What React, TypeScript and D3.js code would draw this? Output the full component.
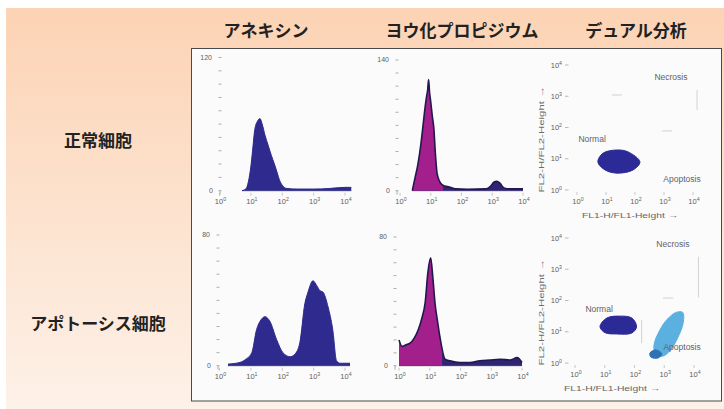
import React from "react";
import * as d3 from "d3";

const WIDTH = 724;
const HEIGHT = 409;

const columnTitles = ["アネキシン", "ヨウ化プロピジウム", "デュアル分析"];
const rowTitles = ["正常細胞", "アポトーシス細胞"];
const decades = [0, 1, 2, 3, 4];

type Pt = [number, number];

// histograms: [log10 fluorescence, event count]
const annexinNormal: Pt[] = [
  [0.72, 0], [0.85, 2], [0.92, 8], [1.0, 22], [1.05, 35], [1.13, 56], [1.22, 63],
  [1.29, 65], [1.36, 60], [1.45, 50], [1.55, 41], [1.65, 32], [1.75, 24], [1.83, 17],
  [1.92, 9], [2.0, 5], [2.15, 2], [2.5, 1.5], [3.0, 1.5], [3.5, 2], [4.0, 3], [4.2, 3],
];
const annexinApoptotic: Pt[] = [
  [0.27, 1], [0.65, 2], [0.84, 4], [1.03, 8], [1.18, 22], [1.32, 28], [1.45, 30],
  [1.61, 27], [1.82, 16], [2.02, 8], [2.25, 5.5], [2.4, 7], [2.56, 14], [2.72, 38],
  [2.82, 45], [2.98, 52], [3.1, 49], [3.2, 46], [3.3, 45], [3.46, 36], [3.61, 22],
  [3.73, 3], [3.84, 1.5], [4.16, 1.5],
];
const piNormal: Pt[] = [
  [0.4, 0], [0.49, 14], [0.58, 28], [0.68, 50], [0.74, 67], [0.8, 85], [0.86, 100],
  [0.9, 108], [0.93, 119], [0.96, 106], [1.0, 95], [1.05, 80], [1.1, 67], [1.15, 40],
  [1.2, 20], [1.24, 14], [1.32, 8], [1.45, 5], [1.6, 4], [1.8, 2], [2.2, 1.5],
  [2.8, 2], [2.95, 5], [3.05, 9], [3.15, 10], [3.25, 8], [3.38, 3], [3.6, 2], [4.0, 2],
];
const piApoptotic: Pt[] = [
  [0, 16], [0.1, 12], [0.23, 13], [0.36, 14], [0.49, 17], [0.62, 22], [0.75, 30],
  [0.85, 39], [0.94, 58], [1.03, 67], [1.1, 55], [1.17, 39], [1.25, 28], [1.33, 18],
  [1.5, 4], [1.66, 3], [1.98, 2], [2.3, 2], [2.63, 3], [2.96, 3.5], [3.28, 4],
  [3.61, 3.5], [3.84, 5], [4.0, 2],
];
const histogramMax = [120, 140, 80, 80];
const piGate: Pt = [0, 1.4];

// dual plot population contours: [log10 FL1, log10 FL2]
const normalPopTop: Pt[] = [
  [0.72, 0.9], [0.9, 1.18], [1.38, 1.28], [1.76, 1.22], [2.17, 0.9], [1.93, 0.64],
  [1.38, 0.54], [0.97, 0.64],
];
const normalPopBottom: Pt[] = [
  [0.84, 1.16], [1.07, 1.44], [1.51, 1.5], [1.91, 1.44], [2.07, 1.16], [1.91, 0.96],
  [1.4, 0.93], [1.01, 0.97],
];
const apoptoticPop: Pt[] = [
  [2.66, 0.6], [2.85, 1.05], [3.1, 1.4], [3.4, 1.62], [3.62, 1.62], [3.64, 1.3],
  [3.45, 0.8], [3.2, 0.4], [2.95, 0.22], [2.7, 0.28],
];
const lateApoptoticPop: Pt[] = [
  [2.52, 0.32], [2.72, 0.42], [2.92, 0.29], [2.79, 0.16], [2.55, 0.19],
];
const quadrantNames = ["Necrosis", "Normal", "Apoptosis"];
const quadrantSpotsTop: Pt[] = [[3.24, 3.62], [0.52, 1.63], [3.62, 0.35]];
const quadrantSpotsBottom: Pt[] = [[3.29, 3.81], [0.81, 1.73], [3.6, 0.51]];
// faint gate segments [[x1,y1],[x2,y2]]
const gatesTop: [Pt, Pt][] = [
  [[1.2, 3.04], [1.55, 3.04]], [[2.93, 1.89], [3.28, 1.89]], [[4.14, 2.56], [4.14, 3.2]],
];
const gatesBottom: [Pt, Pt][] = [
  [[2.24, 0.64], [2.24, 1.38]], [[2.96, 2.08], [3.3, 2.08]], [[4.15, 2.1], [4.15, 3.4]],
];

const tickFont = "Liberation Sans, Arial, sans-serif";
const cjkFont = "Noto Sans CJK JP, sans-serif";
const tickInk = "#5e5e5e";

function Decade({ x, y, d, size = 7.5 }: { x: number; y: number; d: number; size?: number }) {
  return (
    <text x={x} y={y} textAnchor="middle" fontSize={size} fill={tickInk} fontFamily={tickFont}>
      10
      <tspan dy={-3} fontSize={size * 0.7}>{d}</tspan>
    </text>
  );
}

function Histogram(props: {
  data: Pt[]; x0: number; x1: number; yBase: number; yTop: number; max: number;
  axisX: number; fill: string; gateFill?: string;
}) {
  const { data, x0, x1, yBase, yTop, max, axisX, fill, gateFill } = props;
  const x = d3.scaleLinear().domain([0, 4]).range([x0, x1]);
  const y = d3.scaleLinear().domain([0, max]).range([yBase, yTop]);
  const area = d3.area<Pt>().x((d) => x(d[0])).y0(yBase).y1((d) => y(d[1])).curve(d3.curveMonotoneX);
  const line = d3.line<Pt>().x((d) => x(d[0])).y((d) => y(d[1])).curve(d3.curveMonotoneX);
  const ticks = d3.range(0, max + 0.001, max / 10);
  const clipId = "gate" + Math.round(x0) + Math.round(yBase);
  return (
    <g>
      {ticks.map((t) => (
        <line key={t} x1={axisX - 1.5} x2={axisX + 1.5} y1={y(t)} y2={y(t)} stroke="#9a9a9a" strokeWidth={0.8} />
      ))}
      <line x1={axisX} x2={axisX} y1={yBase} y2={yBase + 4} stroke="#9a9a9a" strokeWidth={0.8} />
      <text x={axisX - 8} y={y(max) + 2} textAnchor="end" fontSize={7} fill={tickInk} fontFamily={tickFont}>{max}</text>
      <text x={axisX - 7} y={yBase + 2.5} textAnchor="end" fontSize={7} fill={tickInk} fontFamily={tickFont}>0</text>
      <line x1={x(d3.min(data, (d) => d[0]) as number)} x2={x(d3.max(data, (d) => d[0]) as number)} y1={yBase} y2={yBase} stroke="#8a8a9a" strokeWidth={1.2} />
      <path d={area(data) || ""} fill={fill} />
      {gateFill && (
        <>
          <clipPath id={clipId}>
            <rect x={x(piGate[0]) - 3} y={yTop - 10} width={x(piGate[1]) - x(piGate[0]) + 3} height={yBase - yTop + 10} />
          </clipPath>
          <path d={area(data) || ""} fill={gateFill} clipPath={`url(#${clipId})`} />
        </>
      )}
      <path d={line(data) || ""} fill="none" stroke={gateFill ? "#22184f" : fill} strokeWidth={gateFill ? 1.6 : 1} />
      {decades.map((d) => (
        <g key={d}>
          <line x1={x(d)} x2={x(d)} y1={yBase + 2} y2={yBase + 5} stroke="#b0b0b0" strokeWidth={0.7} />
          <Decade x={x(d) + 1} y={yBase + 13} d={d} />
        </g>
      ))}
    </g>
  );
}

function DotPlot(props: {
  x0: number; x1: number; yBase: number; yTop: number; axisX: number;
  pops: { pts: Pt[]; fill: string }[]; spots: Pt[]; gates: [Pt, Pt][];
  xLabelX: number; xLabelY: number;
}) {
  const { x0, x1, yBase, yTop, axisX, pops, spots, gates, xLabelX, xLabelY } = props;
  const x = d3.scaleLinear().domain([0, 4]).range([x0, x1]);
  const y = d3.scaleLinear().domain([0, 4]).range([yBase, yTop]);
  const blob = d3.line<Pt>().x((d) => x(d[0])).y((d) => y(d[1])).curve(d3.curveCatmullRomClosed.alpha(0.5));
  const yMid = (yBase + yTop) / 2 + 12;
  return (
    <g>
      <text
        transform={`translate(544,${yMid}) rotate(-90)`}
        textAnchor="middle" fontSize={8} fill="#6a6a6a" fontFamily={tickFont}
        textLength={106} lengthAdjust="spacingAndGlyphs"
      >
        FL2-H/FL2-Height →
      </text>
      {gates.map((g, i) => (
        <line key={i} x1={x(g[0][0])} y1={y(g[0][1])} x2={x(g[1][0])} y2={y(g[1][1])} stroke="#c8c8c8" strokeWidth={0.8} />
      ))}
      {decades.map((d) => (
        <g key={d}>
          <line x1={axisX - 2} x2={axisX + 1.5} y1={y(d)} y2={y(d)} stroke="#a8a8a8" strokeWidth={0.8} />
          <text x={axisX - 5} y={y(d) + 2.5} textAnchor="end" fontSize={7.5} fill={tickInk} fontFamily={tickFont}>
            10<tspan dy={-3} fontSize={5.2}>{d}</tspan>
          </text>
          <line x1={x(d)} x2={x(d)} y1={yBase + 2} y2={yBase + 5} stroke="#b4b4b4" strokeWidth={0.7} />
          <Decade x={x(d) + 1} y={yBase + 14} d={d} />
        </g>
      ))}
      {pops.map((p, i) => (
        <path key={i} d={blob(p.pts) || ""} fill={p.fill} stroke={p.fill} strokeWidth={1} strokeLinejoin="round" />
      ))}
      {quadrantNames.map((n, i) => (
        <text key={n} x={x(spots[i][0])} y={y(spots[i][1]) + 3} textAnchor="middle" fontSize={8.5} fill="#626262" fontFamily={tickFont}>
          {n}
        </text>
      ))}
      <text x={xLabelX} y={xLabelY} textAnchor="middle" fontSize={8} fill="#666" fontFamily={tickFont}
        textLength={96} lengthAdjust="spacingAndGlyphs">
        FL1-H/FL1-Height →
      </text>
    </g>
  );
}

export default function App() {
  const titleX = [266, 462, 636];
  const rowY = [139, 322];
  return (
    <svg width={WIDTH} height={HEIGHT} style={{ position: "absolute", left: 0, top: 0 }}>
      <defs>
        <linearGradient id="peach" x1="0" y1="0" x2="0" y2="1">
          <stop offset="0" stopColor="#fcd3b4" />
          <stop offset="1" stopColor="#fdf1e8" />
        </linearGradient>
      </defs>
      <rect width={WIDTH} height={HEIGHT} fill="#ffffff" />
      <rect x={6} y={8} width={WIDTH - 6} height={HEIGHT - 8} fill="url(#peach)" />
      {columnTitles.map((t, i) => (
        <text key={t} x={titleX[i]} y={29} textAnchor="middle" dominantBaseline="central"
          fontSize={17} fontWeight={700} fill="#222" fontFamily={cjkFont}>{t}</text>
      ))}
      {rowTitles.map((t, i) => (
        <text key={t} x={98} y={rowY[i]} textAnchor="middle" dominantBaseline="central"
          fontSize={17} fontWeight={700} fill="#222" fontFamily={cjkFont}>{t}</text>
      ))}
      <rect x={191.5} y={48.5} width={530} height={352.5} fill="#fbfbfb" stroke="#4a4a4a" strokeWidth={1} />

      <Histogram data={annexinNormal} x0={219.5} x1={345} yBase={190.7} yTop={57.5} max={histogramMax[0]} axisX={220} fill="#2e2a8e" />
      <Histogram data={piNormal} x0={400} x1={523} yBase={190.7} yTop={60} max={histogramMax[1]} axisX={397} fill="#2f2577" gateFill="#a3208c" />
      <Histogram data={annexinApoptotic} x0={219.5} x1={345} yBase={365.7} yTop={235} max={histogramMax[2]} axisX={218} fill="#2e2a8e" />
      <Histogram data={piApoptotic} x0={399} x1={522} yBase={365.7} yTop={237} max={histogramMax[3]} axisX={395} fill="#2f2577" gateFill="#a3208c" />

      <DotPlot x0={577} x1={693} yBase={190} yTop={65} axisX={567}
        pops={[{ pts: normalPopTop, fill: "#2b2a96" }]}
        spots={quadrantSpotsTop} gates={gatesTop} xLabelX={630} xLabelY={218} />
      <DotPlot x0={575} x1={694} yBase={363} yTop={238} axisX={567}
        pops={[
          { pts: normalPopBottom, fill: "#2b2a96" },
          { pts: apoptoticPop, fill: "#5cb0df" },
          { pts: lateApoptoticPop, fill: "#2f72b4" },
        ]}
        spots={quadrantSpotsBottom} gates={gatesBottom} xLabelX={612} xLabelY={391} />
    </svg>
  );
}
